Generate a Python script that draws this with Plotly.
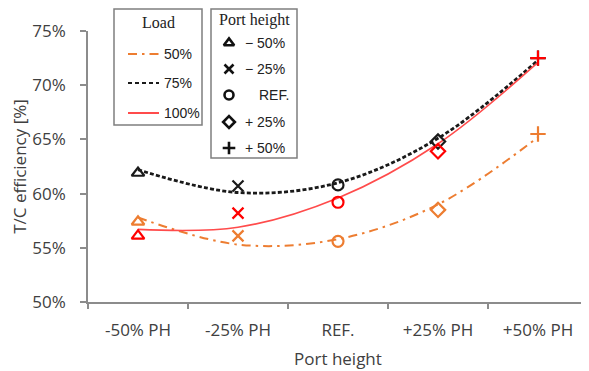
import plotly.graph_objects as go

# ---------------- data ----------------
categories = ["-50% PH", "-25% PH", "REF.", "+25% PH", "+50% PH"]
port_labels = ["\u2212 50%", "\u2212 25%", "REF.", "+ 25%", "+ 50%"]

eff_50 = [57.4, 56.1, 55.6, 58.5, 65.5]     # 50 % load (orange)
eff_75 = [61.9, 60.7, 60.8, 64.8, 72.5]     # 75 % load (black)
eff_100 = [56.1, 58.2, 59.2, 63.9, 72.5]    # 100 % load (red)

# trend-line values read at each category
trend_50 = [57.8, 55.3, 55.8, 59.0, 65.2]
trend_75 = [62.2, 60.1, 61.0, 65.1, 72.3]
trend_100 = [56.7, 56.9, 59.6, 64.6, 72.1]

load_labels = ["50%", "75%", "100%"]
y_ticks = [50, 55, 60, 65, 70, 75]

# ---------------- styling ----------------
ORANGE = "#ED7D31"
BLACK = "#1a1a1a"
RED_LINE = "#FF4B4B"
RED_MK = "#FF0000"
AXIS = "#8c8c8c"
TXT = "#404040"
symbols = ["triangle-up-open", "x-thin-open", "circle-open", "diamond-open", "cross-thin-open"]

# page body has an 8px default margin -> figure is 8px smaller, plot area at window px 88..588 x 31..302
OFF = 8
W, H = 589 - OFF, 371 - OFF
X0, X1, Y0, Y1 = 88, 588, 31, 302          # plot area in window pixels
L, R, T, B = X0 - OFF, W - (X1 - OFF), Y0 - OFF, H - (Y1 - OFF)
PW, PH = X1 - X0, Y1 - Y0


def px(x):
    return (x - X0) / PW


def py(y):
    return (Y1 - y) / PH


fig = go.Figure()

DASH_O = "9px,5px,2.5px,5px"
DASH_K = "4px,2.2px"
series = [
    (eff_50, trend_50, ORANGE, ORANGE, DASH_O, 2),
    (eff_75, trend_75, BLACK, BLACK, DASH_K, 2.8),
    (eff_100, trend_100, RED_LINE, RED_MK, "solid", 1.6),
]
for vals, trend, lc, mc, dash, lw in series:
    fig.add_trace(go.Scatter(
        x=categories, y=trend, mode="lines", line_shape="spline",
        line=dict(color=lc, width=lw, dash=dash), showlegend=False, hoverinfo="skip"))
for vals, trend, lc, mc, dash, lw in series:
    fig.add_trace(go.Scatter(
        x=categories, y=vals, mode="markers", showlegend=False, cliponaxis=False,
        marker=dict(symbol=symbols, size=11, color=mc, line=dict(color=mc, width=2.2))))

# legend glyphs for the "Port height" box, on a hidden pixel-unit overlay axis
leg_x = [229] * 5
leg_y = [43, 69, 95, 122, 148]
fig.add_trace(go.Scatter(
    x=leg_x, y=leg_y, xaxis="x2", yaxis="y2", mode="markers", showlegend=False, cliponaxis=False,
    hoverinfo="skip",
    marker=dict(symbol=symbols, size=9, color="#111", line=dict(color="#111", width=2.6))))

fig.update_layout(
    width=W, height=H, margin=dict(l=L, r=R, t=T, b=B),
    paper_bgcolor="white", plot_bgcolor="white",
    font=dict(family="Open Sans", size=17, color=TXT),
    xaxis=dict(type="category", categoryorder="array", categoryarray=categories,
               range=[-0.5, 4.5], tickson="boundaries", ticks="outside", ticklen=5,
               tickcolor=AXIS, tickwidth=1.5, showline=True, linecolor=AXIS, linewidth=1.5,
               showgrid=False, zeroline=False, automargin=False, ticklabelstandoff=12),
    yaxis=dict(range=[50, 75], tickvals=y_ticks, ticktext=[f"{v}%" for v in y_ticks],
               ticks="outside", ticklen=6, tickcolor=AXIS, tickwidth=1.5,
               showline=True, linecolor=AXIS, linewidth=1.5, showgrid=False, zeroline=False,
               ticklabelstandoff=11, automargin=False,
               title=dict(text="T/C efficiency [%]", standoff=5, font=dict(size=17, color=TXT))),
    xaxis2=dict(overlaying="x", range=[X0, X1], visible=False, fixedrange=True),
    yaxis2=dict(overlaying="y", range=[Y1, Y0], visible=False, fixedrange=True),
)

# ---------------- legend boxes (drawn manually) ----------------
BOX = "#7f7f7f"
shapes = []
ann = []
# x-axis title
ann.append(dict(text="Port height", x=px(338), y=py(358), xref="paper", yref="paper", showarrow=False,
                xanchor="center", yanchor="middle", font=dict(family="Open Sans", size=17, color=TXT)))
# Load legend
shapes.append(dict(type="rect", xref="paper", yref="paper", x0=px(114), x1=px(202), y0=py(9), y1=py(125),
                   line=dict(color=BOX, width=1.5), fillcolor="white", layer="below"))
ann.append(dict(text="Load", x=px(158), y=py(22), xref="paper", yref="paper", showarrow=False,
                xanchor="center", yanchor="middle", font=dict(family="Liberation Serif", size=16, color="#222")))
leg_lines = [(ORANGE, DASH_O, 2), (BLACK, "4px,3px", 2), (RED_LINE, "solid", 2)]
for i, (lab, (c, d, w)) in enumerate(zip(load_labels, leg_lines)):
    yy = [54, 83, 113][i]
    shapes.append(dict(type="line", xref="paper", yref="paper", x0=px(128), x1=px(159), y0=py(yy), y1=py(yy),
                       line=dict(color=c, width=w, dash=d), layer="above"))
    ann.append(dict(text=lab, x=px(162), y=py(yy), xref="paper", yref="paper", showarrow=False,
                    xanchor="left", yanchor="middle", font=dict(family="Liberation Sans", size=14, color="#222")))
# Port height legend
shapes.append(dict(type="rect", xref="paper", yref="paper", x0=px(211), x1=px(297), y0=py(9), y1=py(158),
                   line=dict(color=BOX, width=1.5), fillcolor="white", layer="below"))
ann.append(dict(text="Port height", x=px(254), y=py(20), xref="paper", yref="paper", showarrow=False,
                xanchor="center", yanchor="middle", font=dict(family="Liberation Serif", size=16, color="#222")))
for i, lab in enumerate(port_labels):
    yy = leg_y[i]
    xl = 257 if lab == "REF." else 243
    ann.append(dict(text=lab, x=px(xl), y=py(yy), xref="paper", yref="paper", showarrow=False,
                    xanchor="left", yanchor="middle", font=dict(family="Liberation Sans", size=14, color="#222")))

fig.update_layout(shapes=shapes, annotations=ann)
fig.write_html("out.html")
